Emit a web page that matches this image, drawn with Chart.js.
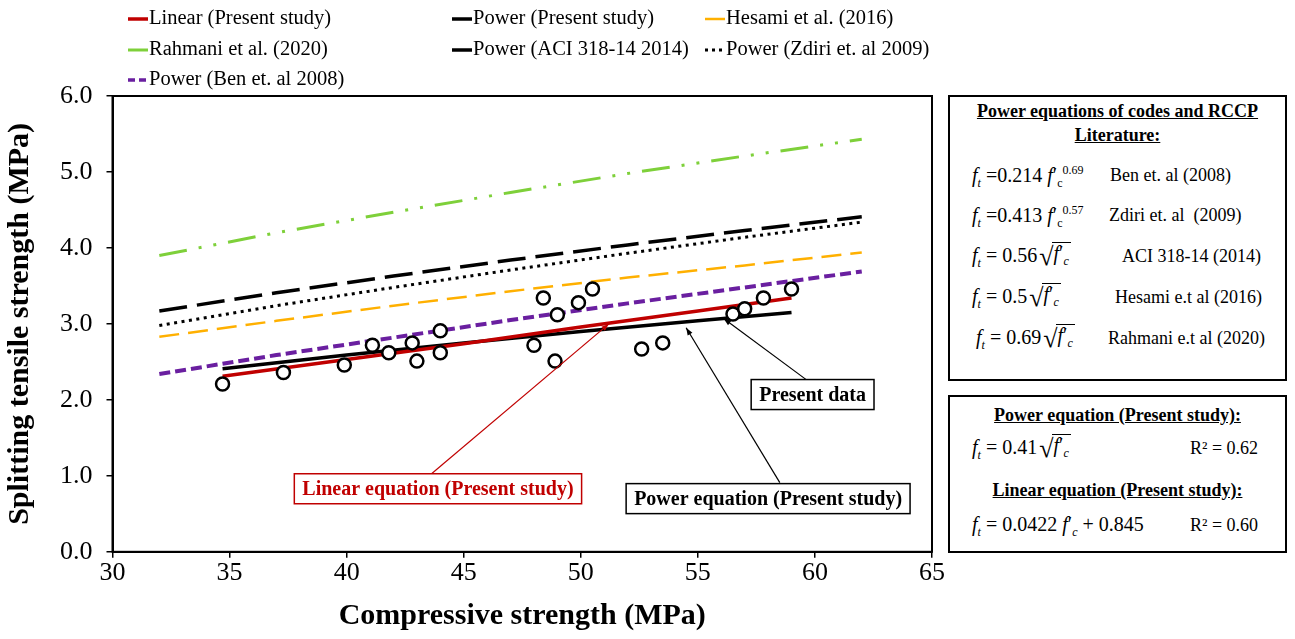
<!DOCTYPE html>
<html>
<head>
<meta charset="utf-8">
<script src="https://cdn.jsdelivr.net/npm/chart.js@4"></script>
<style>
  body { margin: 0; background: #fff; font-family: "Liberation Serif", "Times New Roman", serif; }
  #wrap { position: relative; width: 1295px; height: 639px; }
  #chartBox { position: absolute; left: 0; top: 0; width: 945px; height: 639px; }
  .panel { position: absolute; border: 2px solid #000; box-sizing: border-box; background: #fff; }
  .t { position: absolute; white-space: nowrap; color: #000; }
  .h { font-weight: bold; text-decoration: underline; font-size: 18px; width: 100%; text-align: center; left: 0; }
  .eq { font-size: 18px; }
  .m { font-size: 20px; }
  .m sub { font-size: 12px; }
  .m sup { font-size: 12px; }
  .rad { font-size: 26px; vertical-align: -3px; margin-left: 2px; }
  .ov { display: inline-block; border-top: 1.5px solid #000; line-height: 20px; padding: 0 2px 0 1px; margin-left: -1px; vertical-align: 2px; }
</style>
</head>
<body>
<div id="wrap">
  <div id="chartBox"><canvas id="myChart"></canvas></div>

  <div class="panel" style="left:948px; top:95px; width:339px; height:286px;">
    <div class="t h" style="top:4px;">Power equations of codes and RCCP</div>
    <div class="t h" style="top:28px;">Literature:</div>
    <div class="t m" style="left:22px; top:66px;"><i>f<sub>t</sub></i> =0.214 <i>f</i>′<sub>c</sub><sup>0.69</sup></div>
    <div class="t eq" style="left:160px; top:68px;">Ben et. al (2008)</div>
    <div class="t m" style="left:22px; top:106px;"><i>f<sub>t</sub></i> =0.413 <i>f</i>′<sub>c</sub><sup>0.57</sup></div>
    <div class="t eq" style="left:159px; top:108px;">Zdiri et. al&nbsp; (2009)</div>
    <div class="t m" style="left:22px; top:145px;"><i>f<sub>t</sub></i> = 0.56<span class="rad">√</span><span class="ov"><i>f</i>′<sub><i>c</i></sub></span></div>
    <div class="t eq" style="left:172px; top:149px;">ACI 318-14 (2014)</div>
    <div class="t m" style="left:22px; top:186px;"><i>f<sub>t</sub></i> = 0.5<span class="rad">√</span><span class="ov"><i>f</i>′<sub><i>c</i></sub></span></div>
    <div class="t eq" style="left:165px; top:190px;">Hesami e.t al (2016)</div>
    <div class="t m" style="left:26px; top:227px;"><i>f<sub>t</sub></i> = 0.69<span class="rad">√</span><span class="ov"><i>f</i>′<sub><i>c</i></sub></span></div>
    <div class="t eq" style="left:158px; top:231px;">Rahmani e.t al (2020)</div>
  </div>

  <div class="panel" style="left:948px; top:395px; width:339px; height:158px;">
    <div class="t h" style="top:8px;">Power equation (Present study):</div>
    <div class="t m" style="left:22px; top:37px;"><i>f<sub>t</sub></i> = 0.41<span class="rad">√</span><span class="ov"><i>f</i>′<sub><i>c</i></sub></span></div>
    <div class="t eq" style="left:240px; top:41px;">R² = 0.62</div>
    <div class="t h" style="top:83px;">Linear equation (Present study):</div>
    <div class="t m" style="left:22px; top:116px;"><i>f<sub>t</sub></i> = 0.0422 <i>f</i>′<sub><i>c</i></sub> + 0.845</div>
    <div class="t eq" style="left:240px; top:118px;">R² = 0.60</div>
  </div>
</div>

<script>
// measured points (compressive, splitting tensile)
var fcData = [34.7, 37.3, 39.9, 41.1, 41.8, 42.8, 43.0, 44.0, 44.0, 48.0, 48.4, 48.9, 49.0, 49.9, 50.5, 52.6, 53.5, 56.5, 57.0, 57.8, 59.0];
var ftData = [2.21, 2.36, 2.46, 2.72, 2.62, 2.75, 2.51, 2.91, 2.62, 2.72, 3.34, 2.51, 3.12, 3.28, 3.46, 2.67, 2.75, 3.13, 3.20, 3.34, 3.46];

// present study fits
var fitX = [34.7, 40, 45, 50, 55, 59];
var linearY = [2.31, 2.53, 2.74, 2.96, 3.17, 3.34];
var powerY = [2.41, 2.59, 2.75, 2.90, 3.04, 3.15];

// codes / literature curves
var litX = [32, 37, 42, 47, 52, 57, 62];
var aciY = [3.17, 3.41, 3.63, 3.84, 4.04, 4.23, 4.41];
var hesamiY = [2.83, 3.04, 3.24, 3.43, 3.61, 3.77, 3.94];
var rahmaniY = [3.90, 4.20, 4.47, 4.73, 4.98, 5.21, 5.43];
var benY = [2.34, 2.59, 2.82, 3.05, 3.27, 3.48, 3.69];
var zdiriY = [2.98, 3.24, 3.48, 3.71, 3.93, 4.14, 4.34];

var xTicks = [30, 35, 40, 45, 50, 55, 60, 65];
var yTicks = [0, 1, 2, 3, 4, 5, 6];

function pts(xs, ys) {
  return xs.map(function (x, i) { return { x: x, y: ys[i] }; });
}

function lineSet(label, xs, ys, color, width, dash) {
  return {
    label: label,
    data: pts(xs, ys),
    showLine: true,
    borderColor: color,
    backgroundColor: color,
    borderWidth: width,
    borderDash: dash,
    pointRadius: 0,
    fill: false,
  };
}

var serif = "'Liberation Serif', 'Times New Roman', serif";

// text boxes with arrows, positioned in data units
var notes = [
  { text: "Linear equation (Present study)", x: 43.9, y: 0.83, color: "#c00000", from: [43.6, 1.02], to: [51.2, 3.0] },
  { text: "Power equation (Present study)", x: 58.0, y: 0.70, color: "#000", from: [58.5, 0.91], to: [54.5, 2.95] },
  { text: "Present data", x: 59.9, y: 2.07, color: "#000", from: [59.7, 2.25], to: [56.1, 3.07] },
];

var frame = {
  id: "frame",
  afterDraw: function (chart) {
    var a = chart.chartArea, c = chart.ctx;
    c.save();
    c.strokeStyle = "#000";
    c.lineWidth = 2;
    c.strokeRect(a.left, a.top, a.right - a.left, a.bottom - a.top);
    c.restore();
  },
};

var annots = {
  id: "annots",
  afterDatasetsDraw: function (chart) {
    var c = chart.ctx, xs = chart.scales.x, ys = chart.scales.y;
    c.save();
    c.font = "bold 20px " + serif;
    c.textAlign = "center";
    c.textBaseline = "middle";
    notes.forEach(function (n) {
      var fx = xs.getPixelForValue(n.from[0]), fy = ys.getPixelForValue(n.from[1]);
      var tx = xs.getPixelForValue(n.to[0]), ty = ys.getPixelForValue(n.to[1]);
      c.strokeStyle = n.color;
      c.fillStyle = n.color;
      c.lineWidth = 1.2;
      c.beginPath();
      c.moveTo(fx, fy);
      c.lineTo(tx, ty);
      c.stroke();
      var ang = Math.atan2(ty - fy, tx - fx);
      c.beginPath();
      c.moveTo(tx, ty);
      c.lineTo(tx - 8 * Math.cos(ang - 0.35), ty - 8 * Math.sin(ang - 0.35));
      c.lineTo(tx - 8 * Math.cos(ang + 0.35), ty - 8 * Math.sin(ang + 0.35));
      c.closePath();
      c.fill();

      var cx = xs.getPixelForValue(n.x), cy = ys.getPixelForValue(n.y);
      var w = c.measureText(n.text).width + 16, h = 30;
      c.fillStyle = "#fff";
      c.fillRect(cx - w / 2, cy - h / 2, w, h);
      c.lineWidth = 1.5;
      c.strokeRect(cx - w / 2, cy - h / 2, w, h);
      c.fillStyle = n.color;
      c.fillText(n.text, cx, cy + 1);
    });
    c.restore();
  },
};

var legendCols = [128, 452, 705];
var legendRows = [19, 50, 80];
var topLegend = {
  id: "topLegend",
  afterDraw: function (chart) {
    var c = chart.ctx;
    c.save();
    c.font = "20.5px " + serif;
    c.textBaseline = "middle";
    c.fillStyle = "#000";
    var items = chart.data.datasets.filter(function (d) { return d.showLine; });
    items.forEach(function (d, i) {
      var x = legendCols[i % 3], y = legendRows[Math.floor(i / 3)];
      c.strokeStyle = d.borderColor;
      c.lineWidth = Math.min(d.borderWidth, 3.5);
      c.setLineDash(d.legendDash || []);
      c.beginPath();
      c.moveTo(x, y);
      c.lineTo(x + 20, y);
      c.stroke();
      c.setLineDash([]);
      c.fillText(d.label, x + 21, y);
    });
    c.restore();
  },
};

var scatterSet = {
  label: "Present data",
  data: pts(fcData, ftData),
  borderColor: "#000",
  backgroundColor: "#fff",
  borderWidth: 2.5,
  pointRadius: 6.5,
  pointHoverRadius: 6.5,
};

var linSet = lineSet("Linear (Present study)", fitX, linearY, "#c00000", 3.5, []);
var powSet = lineSet("Power (Present study)", fitX, powerY, "#000", 3.5, []);
var hesSet = lineSet("Hesami et al. (2016)", litX, hesamiY, "#ffb000", 2.5, [20, 9]);
var rahSet = lineSet("Rahmani et al. (2020)", litX, rahmaniY, "#7ed03a", 3, [28, 12, 3, 12, 3, 12]);
var aciSet = lineSet("Power (ACI 318-14 2014)", litX, aciY, "#000", 3.5, [28, 10]);
var zdSet = lineSet("Power (Zdiri et. al 2009)", litX, zdiriY, "#000", 3, [3, 4.5]);
zdSet.legendDash = [3, 4];
var benSet = lineSet("Power (Ben et. al 2008)", litX, benY, "#6a1fa0", 4, [11, 5]);
benSet.legendDash = [7, 4];

var ctx = document.getElementById("myChart").getContext("2d");
var myChart = new Chart(ctx, {
  type: "scatter",
  data: {
    datasets: [scatterSet, linSet, powSet, hesSet, rahSet, aciSet, zdSet, benSet],
  },
  options: {
    responsive: true,
    maintainAspectRatio: false,
    animation: false,
    layout: { padding: { top: 96, right: 13, left: 2, bottom: 5 } },
    plugins: { legend: { display: false }, tooltip: { enabled: false } },
    scales: {
      x: {
        type: "linear",
        min: 30,
        max: 65,
        afterBuildTicks: function (s) { s.ticks = xTicks.map(function (v) { return { value: v }; }); },
        ticks: { color: "#000", font: { family: serif, size: 26 }, padding: 0 },
        grid: { display: true, drawOnChartArea: false, drawTicks: true, tickLength: 6, color: "#000", lineWidth: 1.5 },
        border: { display: true, color: "#000", width: 2 },
        title: { display: true, text: "Compressive strength (MPa)", color: "#000", font: { family: serif, size: 30, weight: "bold" }, padding: { top: 9, bottom: 0 } },
      },
      y: {
        type: "linear",
        min: 0,
        max: 6,
        afterBuildTicks: function (s) { s.ticks = yTicks.map(function (v) { return { value: v }; }); },
        ticks: { color: "#000", font: { family: serif, size: 26 }, padding: 14, callback: function (v) { return v.toFixed(1); } },
        grid: { display: true, drawOnChartArea: false, drawTicks: true, tickLength: 6, color: "#000", lineWidth: 1.5 },
        border: { display: true, color: "#000", width: 2 },
        title: { display: true, text: "Splitting tensile strength (MPa)", color: "#000", font: { family: serif, size: 30, weight: "bold" }, padding: { top: 0, bottom: 8 } },
      },
    },
  },
  plugins: [frame, annots, topLegend],
});
</script>
</body>
</html>
